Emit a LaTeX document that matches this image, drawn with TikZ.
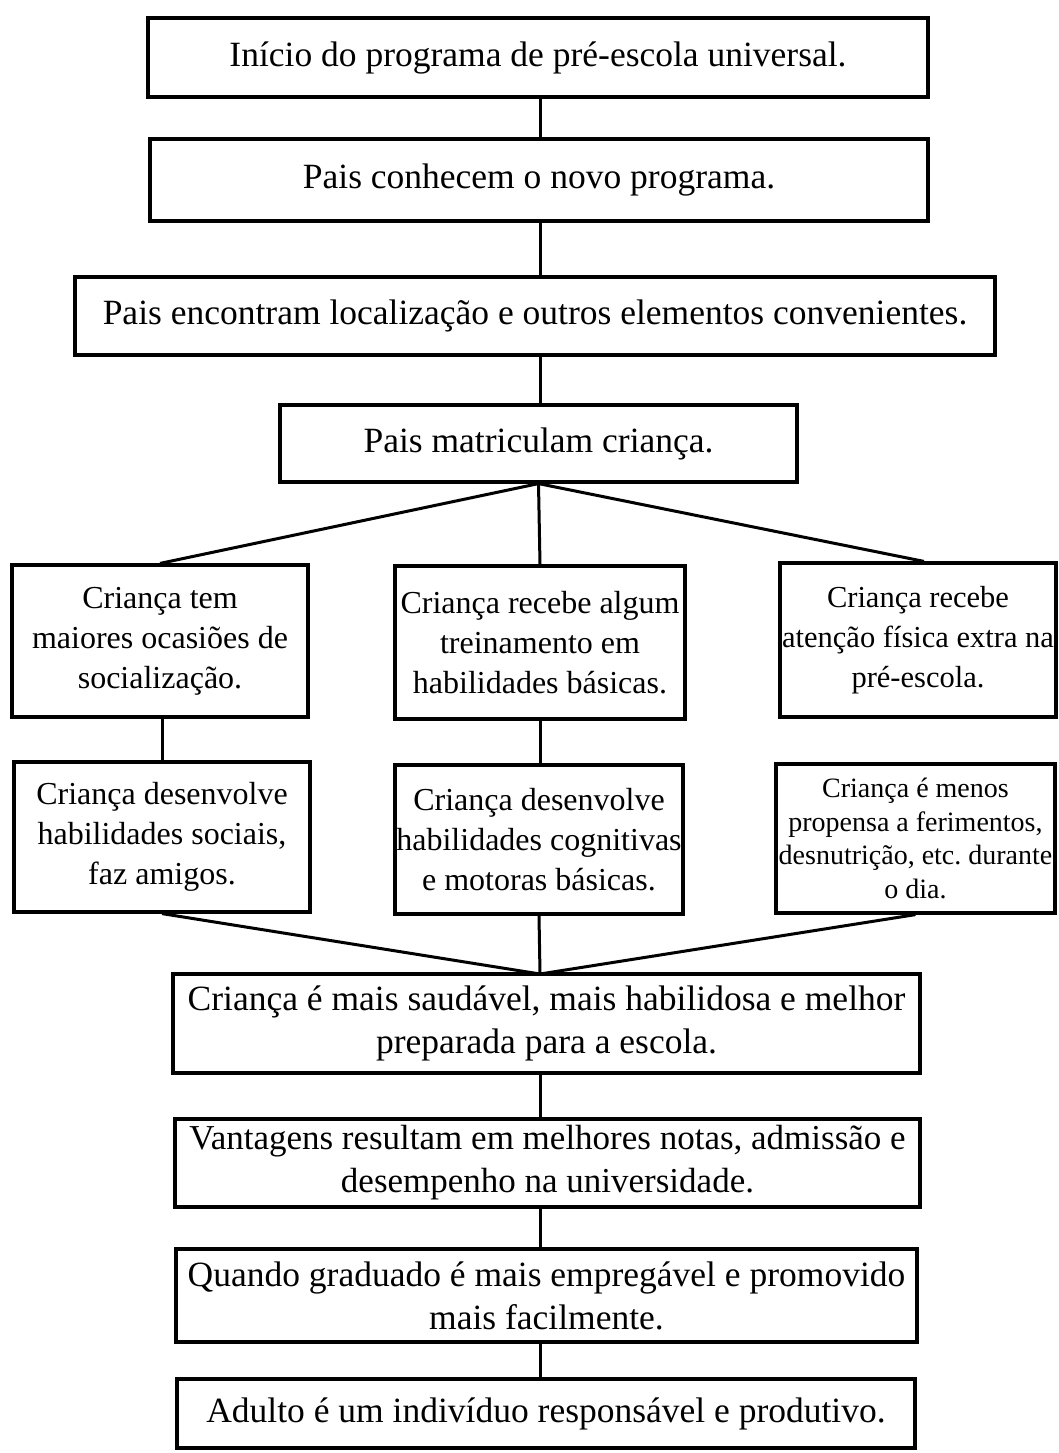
\documentclass[tikz,border=0pt]{standalone}
\usepackage{fontspec}
\setmainfont{Liberation Serif}
\frenchspacing
\begin{document}
\begin{tikzpicture}[x=1pt,y=-1pt,
  box/.style={draw, line width=3.2pt, align=center, inner sep=0pt},
  big/.style={box, font=\fontsize{35.5}{43}\selectfont},
  col/.style={box, font=\fontsize{32}{40}\selectfont},
  small/.style={box, font=\fontsize{28}{33.5}\selectfont},
  link/.style={line width=3pt}]
\useasboundingbox (0,0) rectangle (1059,1453);

% main chain, upper part
\node[big, minimum width=780, minimum height=79] (b1) at (538,57.5)
  {Início do programa de pré-escola universal.};
\node[big, minimum width=778, minimum height=82] (b2) at (539,180)
  {Pais conhecem o novo programa.};
\node[big, minimum width=920, minimum height=78] (b3) at (535,316)
  {Pais encontram localização e outros elementos convenientes.};
\node[big, minimum width=517, minimum height=77] (b4) at (538.5,443.5)
  {Pais matriculam criança.};

% three branches, first row
\node[col, minimum width=296, minimum height=152] (c1) at (160,641)
  {Criança tem\\maiores ocasiões de\\socialização.};
\node[col, minimum width=290, minimum height=153] (c2) at (540,642.5)
  {Criança recebe algum\\treinamento em\\habilidades básicas.};
\node[col, font=\fontsize{30.5}{40}\selectfont, minimum width=276, minimum height=154] (c3) at (918,640)
  {Criança recebe\\atenção física extra na\\pré-escola.};

% three branches, second row
\node[col, minimum width=296, minimum height=150] (d1) at (162,837)
  {Criança desenvolve\\habilidades sociais,\\faz amigos.};
\node[col, minimum width=288, minimum height=149] (d2) at (539,839.5)
  {Criança desenvolve\\habilidades cognitivas\\e motoras básicas.};
\node[small, minimum width=279, minimum height=149] (d3) at (915.5,838.5)
  {Criança é menos\\propensa a ferimentos,\\desnutrição, etc. durante\\o dia.};

% main chain, lower part
\node[big, minimum width=747, minimum height=99] (e1) at (546.5,1023.5)
  {Criança é mais saudável, mais habilidosa e melhor\\preparada para a escola.};
\node[big, font=\fontsize{35}{43}\selectfont, minimum width=745, minimum height=88] (e2) at (547.5,1163)
  {Vantagens resultam em melhores notas, admissão e\\desempenho na universidade.};
\node[big, minimum width=741, minimum height=93] (e3) at (546.5,1295.5)
  {Quando graduado é mais empregável e promovido\\mais facilmente.};
\node[big, minimum width=738, minimum height=69] (e4) at (546,1413.5)
  {Adulto é um indivíduo responsável e produtivo.};

\coordinate (join) at (540,974);

% connectors
\draw[link] (b1.south -| join) -- (b2.north -| join);
\draw[link] (b2.south -| join) -- (b3.north -| join);
\draw[link] (b3.south -| join) -- (b4.north -| join);
\draw[link] (b4.south) -- (c1.north);
\draw[link] (b4.south) -- (c2.north);
\draw[link] (b4.south) -- ([xshift=6pt]c3.north);
\draw[link] (c1.south -| d1) -- (d1.north);
\draw[link] (c2.south) -- (c2.south |- d2.north);
\draw[link] (d1.south) -- (join);
\draw[link] (d2.south) -- (join);
\draw[link] (d3.south) -- (join);
\draw[link] (e1.south -| join) -- (e2.north -| join);
\draw[link] (e2.south -| join) -- (e3.north -| join);
\draw[link] (e3.south -| join) -- (e4.north -| join);
\end{tikzpicture}
\end{document}
